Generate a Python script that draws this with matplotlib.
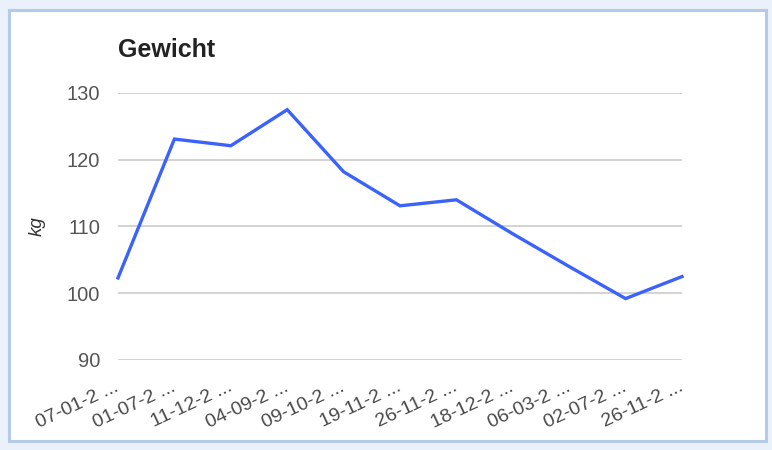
import matplotlib
matplotlib.use("Agg")
import matplotlib.pyplot as plt
from matplotlib.patches import Rectangle

dates = ["07-01-2 ...", "01-07-2 ...", "11-12-2 ...", "04-09-2 ...", "09-10-2 ...",
         "19-11-2 ...", "26-11-2 ...", "18-12-2 ...", "06-03-2 ...", "02-07-2 ...", "26-11-2 ..."]
weight = [102.3, 123.1, 122.1, 127.5, 118.2, 113.1, 114.0, 108.9, 104.0, 99.2, 102.5]
yticks = [90, 100, 110, 120, 130]

plt.rcParams['font.family'] = ['Liberation Sans', 'DejaVu Sans']

fig = plt.figure(figsize=(7.72, 4.5), dpi=100)
fig.patch.set_facecolor('#eaf1fb')
# white card with light-blue border
card = Rectangle((9/772, 1 - 441/450), 757/772, 431/450, transform=fig.transFigure,
                 facecolor='white', edgecolor='#b3cbe8', linewidth=2.2, zorder=-5)
fig.add_artist(card)

ax = fig.add_axes([118/772, 1 - 360/450, 564/772, 267/450])
ax.set_zorder(1)
ax.set_facecolor('none')
x = list(range(len(weight)))
ax.plot(x, weight, color='#3b62fa', linewidth=2.4, solid_joinstyle='miter', zorder=3, clip_on=False)
ax.set_xlim(0, len(weight) - 1)
ax.set_ylim(90, 130)
ax.set_yticks(yticks)
ax.grid(axis='y', color='#cccccc', linewidth=1.2)
ax.set_axisbelow(True)
for s in ax.spines.values():
    s.set_visible(False)
ax.tick_params(axis='both', length=0, colors='#555555')
ax.tick_params(axis='y', pad=13, labelsize=14.5)
ax.set_xticks(x)
ax.set_xticklabels(dates, rotation=25, ha='right', va='center', rotation_mode='anchor',
                   fontsize=14, color='#4a4a4a')
ax.tick_params(axis='x', pad=19)
ax.set_ylabel('kg', style='italic', fontsize=13.5, color='#333333')
ax.yaxis.set_label_coords((46 - 118) / 564, 0.5)
fig.text(118/772, 1 - 50/450, 'Gewicht', fontsize=18, fontweight='bold', color='#222222',
         ha='left', va='center')

fig.savefig('out.png', dpi=100, facecolor=fig.get_facecolor())
